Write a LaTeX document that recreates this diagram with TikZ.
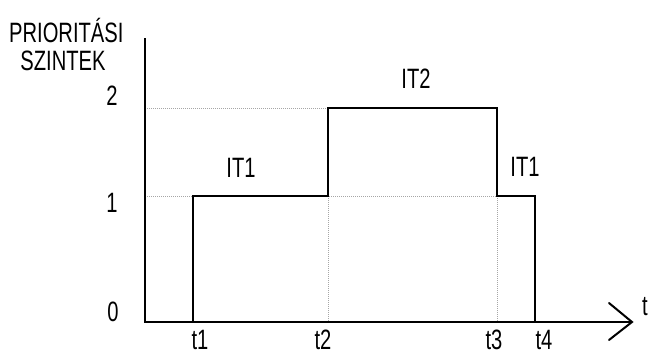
\documentclass[tikz,border=0pt]{standalone}
\usepackage{fontspec}
\setmainfont{Liberation Sans}[FakeStretch=0.72]
\begin{document}
\begin{tikzpicture}[x=1pt,y=-1pt,
  lbl/.style={inner sep=0pt,font=\fontsize{28}{28}\selectfont},
  axisline/.style={line width=2.2pt},
  stepline/.style={line width=2pt},
  guide/.style={line width=0.6pt,gray!70,dash pattern=on 1pt off 1pt}]
\useasboundingbox (0,0) rectangle (649,356);
% key coordinates
\coordinate (O) at (145,322);
\coordinate (ytop) at (145,38);
\coordinate (xend) at (632,322);
\coordinate (armA) at (609,303);
\coordinate (armB) at (609,340);
\coordinate (y1) at (145,196);
\coordinate (y2) at (145,108);
\coordinate (a0) at (193,322);
\coordinate (a1) at (193,196);
\coordinate (b1) at (328,196);
\coordinate (b2) at (328,108);
\coordinate (b0) at (328,322);
\coordinate (c2) at (497,108);
\coordinate (c1) at (497,196);
\coordinate (c0) at (497,322);
\coordinate (d1) at (535,196);
\coordinate (d0) at (535,322);
% guides
\draw[guide] (y2) -- (b2);
\draw[guide] (y1) -- (c1);
\draw[guide] (b1) -- (b0);
\draw[guide] (c1) -- (c0);
% axes
\draw[axisline] (ytop) -- (O) -- (xend);
\draw[line width=2pt,line cap=round,line join=miter] (armA) -- (xend) -- (armB);
% step function
\draw[stepline,line join=miter] (a0) -- (a1) -- (b1) -- (b2) -- (c2) -- (c1) -- (d1) -- (d0);
% labels
\node[lbl,anchor=base west] (ttl1) at (9,42) {PRIORITÁSI};
\node[lbl,anchor=base] (ttl2) at (63,70) {SZINTEK};
\node[lbl] (n2) at (112,96) {2};
\node[lbl] (n1) at (112,203) {1};
\node[lbl] (n0) at (113,312) {0};
\node[lbl] (it1a) at (241,168) {IT1};
\node[lbl] (it2) at (416,79) {IT2};
\node[lbl] (it1b) at (525,167) {IT1};
\node[lbl] (t1) at (200,340) {t1};
\node[lbl] (t2) at (323,340) {t2};
\node[lbl] (t3) at (494,340) {t3};
\node[lbl] (t4) at (544,340) {t4};
\node[lbl,anchor=west] (tt) at (642,307) {t};
\end{tikzpicture}
\end{document}
